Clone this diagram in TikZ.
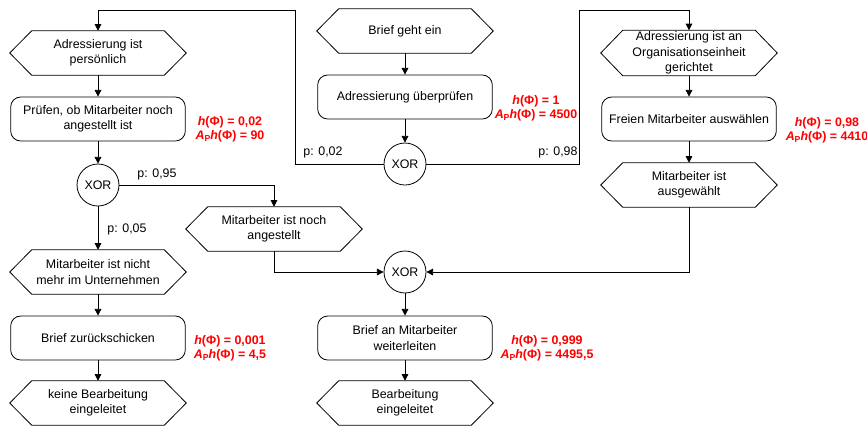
\documentclass[tikz,border=0pt]{standalone}
\usepackage{fontspec}
\setmainfont{Liberation Sans}
\usetikzlibrary{arrows.meta}
\newcommand\myHphi{\textbf{\textit{h}(Φ)}}
\newcommand\myAphi{\textbf{\textit{A}\raisebox{-0.45ex}{\fontsize{6.5pt}{6.5pt}\selectfont P}\textit{h}(Φ)}}
\begin{document}
\begin{tikzpicture}[x=0.75pt,y=-0.75pt,
  every node/.style={font=\fontsize{9.3pt}{11.5pt}\selectfont},
  hexbox/.style={rectangle,minimum width=132pt,minimum height=33pt,align=center,inner sep=1pt},
  procbox/.style={rectangle,draw,rounded corners=7.5pt,minimum width=131pt,minimum height=33pt,align=center,inner sep=1pt,line width=0.6pt},
  xorbox/.style={circle,draw,minimum size=31.5pt,inner sep=0pt,line width=0.6pt},
  arr/.style={-{Triangle[length=5pt,width=5pt]},line width=0.6pt},
  ln/.style={line width=0.6pt},
  redlab/.style={text=red,align=center,font=\fontsize{9.3pt}{10.5pt}\selectfont\bfseries},
  plab/.style={inner sep=0pt}]
\useasboundingbox (0,0) rectangle (867,426);
% center column
\node[hexbox] (hBrief) at (405,31) {Brief geht ein};
\node[procbox] (pAdr) at (405,97) {Adressierung überprüfen};
\node[xorbox] (xTop) at (405,164) {XOR};
% left column
\node[hexbox] (hPers) at (98,53) {Adressierung ist\\persönlich};
\node[procbox] (pPruef) at (98,119) {Prüfen, ob Mitarbeiter noch\\angestellt ist};
\node[xorbox] (xLeft) at (98,185) {XOR};
\node[hexbox] (hNicht) at (98,272) {Mitarbeiter ist nicht\\mehr im Unternehmen};
\node[procbox] (pZur) at (98,338) {Brief zurückschicken};
\node[hexbox] (hKeine) at (98,403) {keine Bearbeitung\\eingeleitet};
% middle
\node[hexbox] (hNoch) at (274,229) {Mitarbeiter ist noch\\angestellt};
\node[xorbox] (xBot) at (405,272) {XOR};
\node[procbox] (pWeiter) at (405,338) {Brief an Mitarbeiter\\weiterleiten};
\node[hexbox] (hBearb) at (405,403) {Bearbeitung\\eingeleitet};
% right column
\node[hexbox] (hOrg) at (689,53) {Adressierung ist an\\Organisationseinheit\\gerichtet};
\node[procbox] (pFrei) at (689,119) {Freien Mitarbeiter auswählen};
\node[hexbox] (hAus) at (689,185) {Mitarbeiter ist\\ausgewählt};
% hexagon outlines
\foreach \n in {hBrief,hPers,hNicht,hKeine,hNoch,hBearb,hOrg,hAus}{
  \draw[ln] (\n.west) -- ([xshift=16.5pt]\n.north west) -- ([xshift=-16.5pt]\n.north east)
    -- (\n.east) -- ([xshift=-16.5pt]\n.south east) -- ([xshift=16.5pt]\n.south west) -- cycle;
}
% helper coordinates
\coordinate (cL) at (295,10);
\coordinate (cR) at (579,10);
% connectors
\draw[arr] (hBrief) -- (pAdr);
\draw[arr] (pAdr) -- (xTop);
\draw[arr] (xTop.west) -| (cL) -| (hPers.north);
\draw[arr] (xTop.east) -| (cR) -| (hOrg.north);
\draw[arr] (hPers) -- (pPruef);
\draw[arr] (pPruef) -- (xLeft);
\draw[arr] (xLeft.east) -| (hNoch.north);
\draw[arr] (xLeft.south) -- (hNicht.north);
\draw[arr] (hNicht) -- (pZur);
\draw[arr] (pZur) -- (hKeine);
\draw[arr] (hNoch.south) |- (xBot.west);
\draw[arr] (hAus.south) |- (xBot.east);
\draw[arr] (xBot) -- (pWeiter);
\draw[arr] (pWeiter) -- (hBearb);
\draw[arr] (hOrg) -- (pFrei);
\draw[arr] (pFrei) -- (hAus);
% probability labels
\node[plab] (p02) at (323,152) {p: 0,02};
\node[plab] (p98) at (558,152) {p: 0,98};
\node[plab] (p95) at (157,174) {p: 0,95};
\node[plab] (p05) at (127,229) {p: 0,05};
% red labels
\node[redlab] (r1) at (536,108) {\myHphi{} = 1\\\myAphi{} = 4500};
\node[redlab] (r2) at (230,129) {\myHphi{} = 0,02\\\myAphi{} = 90};
\node[redlab] (r3) at (827,130) {\myHphi{} = 0,98\\\myAphi{} = 4410};
\node[redlab] (r4) at (230,348) {\myHphi{} = 0,001\\\myAphi{} = 4,5};
\node[redlab] (r5) at (547,348) {\myHphi{} = 0,999\\\myAphi{} = 4495,5};
\end{tikzpicture}
\end{document}
